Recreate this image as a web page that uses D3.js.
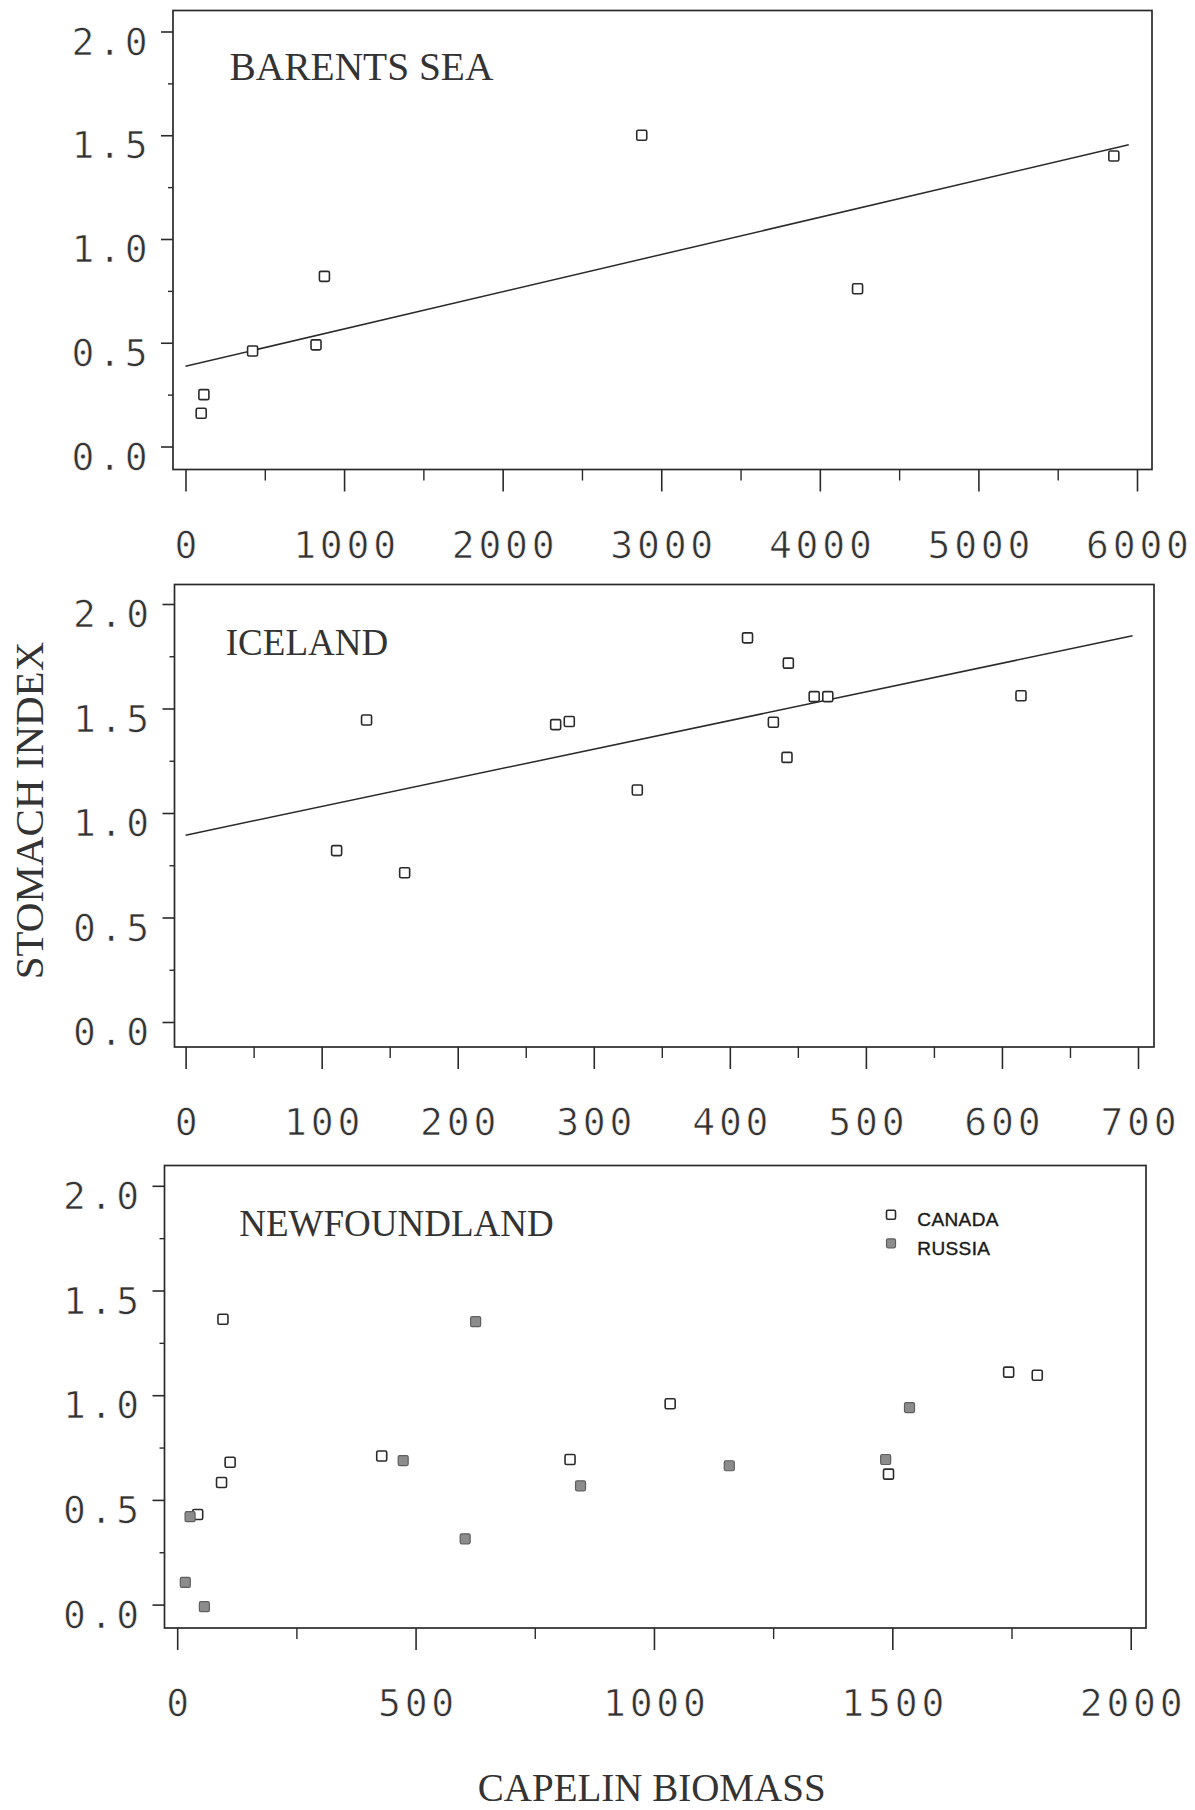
<!DOCTYPE html>
<html>
<head>
<meta charset="utf-8">
<script src="https://cdn.jsdelivr.net/npm/d3@7/dist/d3.min.js"></script>
<style>
  html, body { margin: 0; padding: 0; background: #ffffff; }
  svg { display: block; }
</style>
</head>
<body>
<script>
// ---------------- DATA ----------------
const yTickValues      = [0, 0.5, 1.0, 1.5, 2.0];
const yMinorTickValues = [0.25, 0.75, 1.25, 1.75];

// Panel 1 : Barents Sea
const barentsTitle   = "BARENTS SEA";
const barentsX       = [99, 116, 423, 823, 876, 2877, 4238, 5854];
const barentsY       = [0.16, 0.25, 0.46, 0.49, 0.82, 1.50, 0.76, 1.40];
const barentsFitX    = [0, 5948];
const barentsFitY    = [0.387, 1.454];
const barentsXTicks  = [0, 1000, 2000, 3000, 4000, 5000, 6000];
const barentsXMinor  = [500, 1500, 2500, 3500, 4500, 5500];

// Panel 2 : Iceland
const icelandTitle   = "ICELAND";
const icelandX       = [111, 133, 161, 272, 282, 332, 413, 432, 442, 443, 462, 472, 614];
const icelandY       = [0.82, 1.445, 0.714, 1.423, 1.438, 1.110, 1.838, 1.434, 1.266, 1.717, 1.557, 1.557, 1.561];
const icelandFitX    = [0, 696];
const icelandFitY    = [0.894, 1.848];
const icelandXTicks  = [0, 100, 200, 300, 400, 500, 600, 700];
const icelandXMinor  = [50, 150, 250, 350, 450, 550, 650];

// Panel 3 : Newfoundland (two series)
const newfTitle      = "NEWFOUNDLAND";
const canadaX        = [43, 93, 96, 111, 429, 824, 1034, 1492, 1744, 1804];
const canadaY        = [0.43, 0.583, 1.363, 0.680, 0.710, 0.693, 0.959, 0.623, 1.110, 1.095];
const russiaX        = [17, 27, 57, 474, 604, 626, 846, 1158, 1486, 1536];
const russiaY        = [0.106, 0.420, -0.01, 0.688, 0.314, 1.351, 0.567, 0.663, 0.693, 0.941];
const newfXTicks     = [0, 500, 1000, 1500, 2000];
const newfXMinor     = [250, 750, 1250, 1750];
const legendLabels   = ["CANADA", "RUSSIA"];

const yAxisTitle = "STOMACH INDEX";
const xAxisTitle = "CAPELIN BIOMASS";

// ---------------- LAYOUT ----------------
const W = 1195, H = 1810;
const INK = "#2a2a2a";
const TEXT = "#333333";
const NUM_FONT = "'DejaVu Sans Mono', monospace";
const SERIF = "'Liberation Serif', 'Times New Roman', serif";
const SANS = "'Liberation Sans', Arial, sans-serif";
const NUM_SIZE = 38, NUM_SPACING = 3.8;

const svg = d3.select("body").append("svg")
  .attr("width", W).attr("height", H)
  .attr("viewBox", `0 0 ${W} ${H}`);

const zip = (xs, ys) => xs.map((v, i) => ({ x: v, y: ys[i] }));

const panels = [
  { title: barentsTitle, titleSize: 39.4, titleX: 229.6, titleY: 80.4,
    frame: { l: 173, r: 1152, t: 10.5, b: 469.5 },
    xDomain: [0, 6000], xRange: [185.5, 1137], yRange: [446.5, 31.5],
    xTicks: barentsXTicks, xMinor: barentsXMinor,
    series: [{ pts: zip(barentsX, barentsY), filled: false }],
    fit: zip(barentsFitX, barentsFitY) },
  { title: icelandTitle, titleSize: 37, titleX: 225.8, titleY: 654.9,
    frame: { l: 174.5, r: 1154, t: 584.5, b: 1047 },
    xDomain: [0, 700], xRange: [185.6, 1138], yRange: [1022, 604],
    xTicks: icelandXTicks, xMinor: icelandXMinor,
    series: [{ pts: zip(icelandX, icelandY), filled: false }],
    fit: zip(icelandFitX, icelandFitY) },
  { title: newfTitle, titleSize: 37, titleX: 239.2, titleY: 1236.3,
    frame: { l: 164.5, r: 1146, t: 1165.5, b: 1628 },
    xDomain: [0, 2000], xRange: [177.2, 1130.7], yRange: [1604.6, 1185.8],
    xTicks: newfXTicks, xMinor: newfXMinor,
    series: [{ pts: zip(canadaX, canadaY), filled: false },
             { pts: zip(russiaX, russiaY), filled: true }],
    fit: null,
    legend: { x: 891, y: 1214.7, dy: 28.6, textX: 917.3 } }
];

function styleNumbers(sel) {
  sel.attr("font-family", NUM_FONT)
     .attr("font-size", NUM_SIZE)
     .attr("letter-spacing", NUM_SPACING)
     .attr("fill", TEXT)
     .attr("stroke", "#ffffff")
     .attr("stroke-width", 0.7);
}

function drawMarker(g, cx, cy, filled, size) {
  const s = size;
  g.append("rect")
    .attr("x", cx - s / 2).attr("y", cy - s / 2)
    .attr("width", s).attr("height", s)
    .attr("rx", 1.5)
    .attr("fill", filled ? "#8c8c8c" : "#ffffff")
    .attr("stroke", filled ? "#5e5e5e" : INK)
    .attr("stroke-width", filled ? 1.2 : 1.6);
}

panels.forEach(p => {
  const g = svg.append("g");
  const x = d3.scaleLinear().domain(p.xDomain).range(p.xRange);
  const y = d3.scaleLinear().domain([0, 2]).range(p.yRange);
  const f = p.frame;

  // frame
  g.append("rect")
    .attr("x", f.l).attr("y", f.t)
    .attr("width", f.r - f.l).attr("height", f.b - f.t)
    .attr("fill", "none").attr("stroke", INK).attr("stroke-width", 1.7);

  // y axis major
  const ya = g.append("g").attr("transform", `translate(${f.l},0)`)
    .call(d3.axisLeft(y).tickValues(yTickValues).tickSize(12)
      .tickFormat(d3.format(".1f")));
  ya.select(".domain").remove();
  ya.selectAll(".tick line").attr("stroke", INK).attr("stroke-width", 1.6);
  ya.selectAll(".tick text")
    .call(styleNumbers)
    .attr("x", -21.5).attr("dy", 22.5).attr("text-anchor", "end");
  // y axis minor
  const ym = g.append("g").attr("transform", `translate(${f.l},0)`)
    .call(d3.axisLeft(y).tickValues(yMinorTickValues).tickSize(5).tickFormat(""));
  ym.select(".domain").remove();
  ym.selectAll(".tick line").attr("stroke", INK).attr("stroke-width", 1.4);

  // x axis major
  const xa = g.append("g").attr("transform", `translate(0,${f.b})`)
    .call(d3.axisBottom(x).tickValues(p.xTicks).tickSize(22)
      .tickFormat(d3.format("d")));
  xa.select(".domain").remove();
  xa.selectAll(".tick line").attr("stroke", INK).attr("stroke-width", 1.6);
  xa.selectAll(".tick text")
    .call(styleNumbers)
    .attr("y", 88).attr("dy", 0).attr("dx", NUM_SPACING / 2)
    .attr("text-anchor", "middle");
  // x axis minor
  const xm = g.append("g").attr("transform", `translate(0,${f.b})`)
    .call(d3.axisBottom(x).tickValues(p.xMinor).tickSize(11).tickFormat(""));
  xm.select(".domain").remove();
  xm.selectAll(".tick line").attr("stroke", INK).attr("stroke-width", 1.4);

  // regression line
  if (p.fit) {
    g.append("path")
      .datum(p.fit)
      .attr("d", d3.line().x(d => x(d.x)).y(d => y(d.y)))
      .attr("fill", "none").attr("stroke", INK).attr("stroke-width", 1.5);
  }

  // points
  p.series.forEach(s => {
    const pg = g.append("g");
    s.pts.forEach(d => drawMarker(pg, x(d.x), y(d.y), s.filled, 10));
  });

  // title
  g.append("text")
    .attr("x", p.titleX).attr("y", p.titleY)
    .attr("font-family", SERIF).attr("font-size", p.titleSize)
    .attr("fill", TEXT)
    .text(p.title);

  // legend
  if (p.legend) {
    const L = p.legend;
    p.series.forEach((s, i) => {
      drawMarker(g, L.x, L.y + i * L.dy, s.filled, 9);
      g.append("text")
        .attr("x", L.textX).attr("y", L.y + i * L.dy + 11.3)
        .attr("font-family", SANS).attr("font-size", 19)
        .attr("letter-spacing", 0.4)
        .attr("fill", "#1a1a1a")
        .attr("stroke", "#1a1a1a").attr("stroke-width", 0.4)
        .text(legendLabels[i]);
    });
  }
});

// axis titles
svg.append("text")
  .attr("transform", "translate(42.5,810.5) rotate(-90)")
  .attr("text-anchor", "middle")
  .attr("font-family", SERIF).attr("font-size", 41)
  .attr("fill", TEXT)
  .text(yAxisTitle);

svg.append("text")
  .attr("x", 651.7).attr("y", 1801)
  .attr("text-anchor", "middle")
  .attr("font-family", SERIF).attr("font-size", 39)
  .attr("fill", TEXT)
  .text(xAxisTitle);
</script>
</body>
</html>
